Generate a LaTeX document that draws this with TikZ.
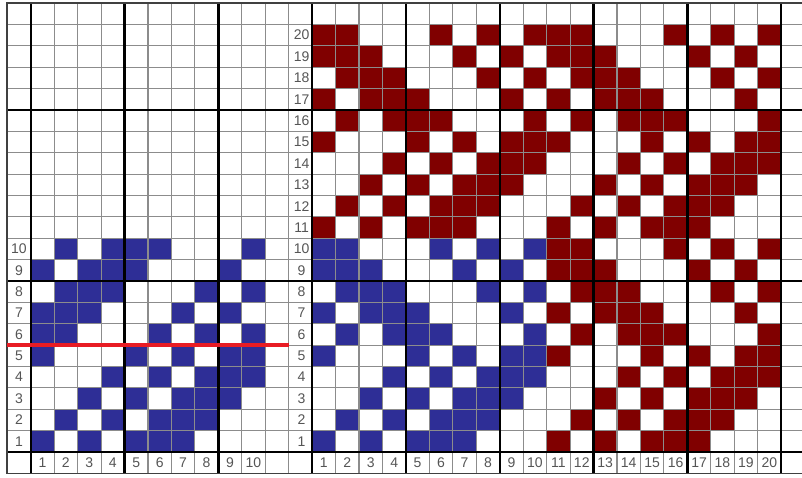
\documentclass[tikz,border=0pt]{standalone}
\usepackage{fontspec}
\setmainfont{Liberation Sans}
\definecolor{wblue}{RGB}{46,46,150}
\definecolor{wred}{RGB}{128,0,0}
\definecolor{gridgray}{RGB}{140,140,140}
\definecolor{labgray}{RGB}{85,85,85}
\definecolor{cutred}{RGB}{232,28,36}
\newcommand\cw{23.45}
\newcommand\rh{21.375}
\newcommand\xo{7.25}
\newcommand\yo{3.1}
\newcommand\wcell[3]{\fill[#1] ({\xo+(#2)*\cw},{\yo+(#3)*\rh}) rectangle ++(\cw,\rh);}
\begin{document}
\begin{tikzpicture}[x=1pt,y=-1pt,
  num/.style={font=\fontsize{14}{14}\selectfont, text=labgray, inner sep=0pt, anchor=center},
  thingrid/.style={draw=gridgray, line width=1.1pt},
  thickgrid/.style={draw=black, line width=2.4pt},
  outerline/.style={draw=black!75, line width=1.6pt},
  cutline/.style={draw=cutred, line width=3.5pt}]
\useasboundingbox (0,0) rectangle (802,478);
\fill[white] (0,0) rectangle (802,478);
\clip (0,0) rectangle (802,478);
% left block (rows 10..1, columns 1..10)
\foreach \k/\cols in {10/{2,4,5,6,10},9/{1,3,4,5,9},8/{2,3,4,8,10},7/{1,2,3,7,9},6/{1,2,6,8,10},5/{1,5,7,9,10},4/{4,6,8,9,10},3/{3,5,7,8,9},2/{2,4,6,7,8},1/{1,3,5,6,7}}
  \foreach \c in \cols {\wcell{wblue}{\c}{21-\k}};
% right block (rows 1..20, columns 1..20)
\foreach \p/\cols in {10/{1,2,6,8,10},9/{1,2,3,7,9},8/{2,3,4,8,10},7/{1,3,4,5,9},6/{2,4,5,6,10},5/{1,5,7,9,10},4/{4,6,8,9,10},3/{3,5,7,8,9},2/{2,4,6,7,8},1/{1,3,5,6,7}}
  \foreach \c in \cols {
    \wcell{wblue}{12+\c}{21-\p}
    \wcell{wred}{22+\c}{21-\p}
    \wcell{wred}{12+\c}{11-\p}
    \wcell{wred}{22+\c}{11-\p}
  };
% thin grid
\foreach \a in {0,...,34}
  \draw[thingrid] ({\xo+\a*\cw},\yo) -- ({\xo+\a*\cw},{\yo+22*\rh});
\foreach \r in {0,...,22}
  \draw[thingrid] (\xo,{\yo+\r*\rh}) -- (810,{\yo+\r*\rh});
% thick grid
\foreach \a in {1,5,...,33}
  \draw[thickgrid] ({\xo+\a*\cw},\yo) -- ({\xo+\a*\cw},{\yo+22*\rh});
\foreach \r in {5,13,21}
  \draw[thickgrid] (\xo,{\yo+\r*\rh}) -- (810,{\yo+\r*\rh});
% outer border
\draw[outerline] (810,\yo) -- (\xo,\yo) -- (\xo,{\yo+22*\rh}) -- (810,{\yo+22*\rh});
% labels
\foreach \k in {1,...,10}
  \node[num] (lrow\k) at ({\xo+0.5*\cw},{\yo+(21.5-\k)*\rh}) {\k};
\foreach \k in {1,...,20}
  \node[num] (mrow\k) at ({\xo+12.55*\cw},{\yo+(21.5-\k)*\rh}) {\k};
\foreach \j in {1,...,10}
  \node[num] (lcol\j) at ({\xo+(\j+0.5)*\cw},{\yo+21.5*\rh}) {\j};
\foreach \j in {1,...,20}
  \node[num] (rcol\j) at ({\xo+(\j+12.5)*\cw},{\yo+21.5*\rh}) {\j};
% red line
\coordinate (cutA) at (\xo,{\yo+16*\rh});
\coordinate (cutB) at ({\xo+12*\cw},{\yo+16*\rh});
\draw[cutline] (cutA) -- (cutB);
\end{tikzpicture}
\end{document}
